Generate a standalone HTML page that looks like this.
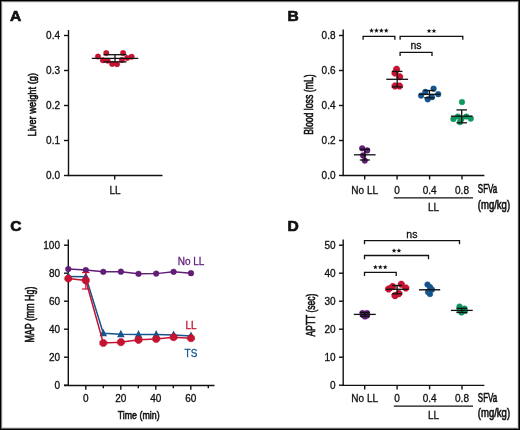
<!DOCTYPE html><html><head><meta charset="utf-8"><style>html,body{margin:0;padding:0;background:#fff;}svg{display:block;will-change:transform}text{font-family:"Liberation Sans",sans-serif}</style></head><body>
<svg width="520" height="430" viewBox="0 0 520 430" font-family="Liberation Sans, sans-serif">
<rect x="0" y="0" width="520" height="430" fill="#fff"/>
<g shape-rendering="crispEdges">
<rect x="2" y="2" width="515" height="1" fill="#ebebeb"/>
<rect x="2" y="2" width="1" height="425" fill="#ebebeb"/>
<rect x="517" y="2" width="1" height="426" fill="#e6e6e6"/>
<rect x="2" y="427" width="516" height="1" fill="#dcdcdc"/>
<rect x="1" y="1" width="517" height="1" fill="#787878"/>
<rect x="1" y="1" width="1" height="427" fill="#787878"/>
<rect x="518" y="1" width="1" height="428" fill="#505050"/>
<rect x="1" y="428" width="518" height="1" fill="#646464"/>
<rect x="0" y="0" width="520" height="1" fill="#000"/>
<rect x="0" y="0" width="1" height="430" fill="#000"/>
<rect x="519" y="0" width="1" height="430" fill="#000"/>
<rect x="0" y="429" width="520" height="1" fill="#000"/>
</g>
<text x="0" y="0" font-size="15.6" text-anchor="start" fill="#111" stroke="#111" stroke-width="0.7" font-weight="bold" transform="translate(10.1,21.3) scale(1,0.96)">A</text>
<text x="0" y="0" font-size="15.6" text-anchor="start" fill="#111" stroke="#111" stroke-width="0.7" font-weight="bold" transform="translate(287.5,21.3) scale(1,0.96)">B</text>
<text x="0" y="0" font-size="15.6" text-anchor="start" fill="#111" stroke="#111" stroke-width="0.7" font-weight="bold" transform="translate(10.2,230.9) scale(1,0.96)">C</text>
<text x="0" y="0" font-size="15.6" text-anchor="start" fill="#111" stroke="#111" stroke-width="0.7" font-weight="bold" transform="translate(287.5,230.9) scale(1,0.96)">D</text>
<line x1="68.5" y1="30" x2="68.5" y2="176.1" stroke="#111" stroke-width="1.4"/>
<line x1="67.85" y1="175.5" x2="162.5" y2="175.5" stroke="#111" stroke-width="1.4"/>
<line x1="64" y1="175.5" x2="68.5" y2="175.5" stroke="#111" stroke-width="1.4"/>
<text x="60" y="179.0" font-size="10" text-anchor="end" fill="#111" stroke="#111" stroke-width="0.3" >0.0</text>
<line x1="64" y1="140.5" x2="68.5" y2="140.5" stroke="#111" stroke-width="1.4"/>
<text x="60" y="144.0" font-size="10" text-anchor="end" fill="#111" stroke="#111" stroke-width="0.3" >0.1</text>
<line x1="64" y1="105.5" x2="68.5" y2="105.5" stroke="#111" stroke-width="1.4"/>
<text x="60" y="109.0" font-size="10" text-anchor="end" fill="#111" stroke="#111" stroke-width="0.3" >0.2</text>
<line x1="64" y1="70.5" x2="68.5" y2="70.5" stroke="#111" stroke-width="1.4"/>
<text x="60" y="74.0" font-size="10" text-anchor="end" fill="#111" stroke="#111" stroke-width="0.3" >0.3</text>
<line x1="64" y1="35.5" x2="68.5" y2="35.5" stroke="#111" stroke-width="1.4"/>
<text x="60" y="39.0" font-size="10" text-anchor="end" fill="#111" stroke="#111" stroke-width="0.3" >0.4</text>
<line x1="114.7" y1="175.5" x2="114.7" y2="179.6" stroke="#111" stroke-width="1.4"/>
<text x="115" y="194" font-size="10" text-anchor="middle" fill="#111" stroke="#111" stroke-width="0.3" >LL</text>
<text transform="translate(36.1,104.7) rotate(-90)" x="0" y="0" font-size="11.7" text-anchor="middle" fill="#111" stroke="#111" stroke-width="0.6" font-weight="normal" textLength="63.5" lengthAdjust="spacingAndGlyphs">Liver weight (g)</text>
<circle cx="106.3" cy="53.1" r="2.75" fill="#C41432" stroke="#BD0A2A" stroke-width="0.4"/>
<circle cx="123.1" cy="53.1" r="2.75" fill="#C41432" stroke="#BD0A2A" stroke-width="0.4"/>
<circle cx="98" cy="56.6" r="2.75" fill="#C41432" stroke="#BD0A2A" stroke-width="0.4"/>
<circle cx="131.6" cy="56.8" r="2.75" fill="#C41432" stroke="#BD0A2A" stroke-width="0.4"/>
<circle cx="102.9" cy="60.3" r="2.75" fill="#C41432" stroke="#BD0A2A" stroke-width="0.4"/>
<circle cx="107.7" cy="60.7" r="2.75" fill="#C41432" stroke="#BD0A2A" stroke-width="0.4"/>
<circle cx="112.2" cy="63.9" r="2.75" fill="#C41432" stroke="#BD0A2A" stroke-width="0.4"/>
<circle cx="117" cy="64.2" r="2.75" fill="#C41432" stroke="#BD0A2A" stroke-width="0.4"/>
<circle cx="121.9" cy="60" r="2.75" fill="#C41432" stroke="#BD0A2A" stroke-width="0.4"/>
<circle cx="127.2" cy="58" r="2.75" fill="#C41432" stroke="#BD0A2A" stroke-width="0.4"/>
<line x1="91.75" y1="58.3" x2="138.25" y2="58.3" stroke="#111" stroke-width="1.3"/>
<line x1="103.5" y1="54.7" x2="126.5" y2="54.7" stroke="#111" stroke-width="1.3"/>
<line x1="103.5" y1="61.9" x2="126.5" y2="61.9" stroke="#111" stroke-width="1.3"/>
<line x1="115" y1="54.7" x2="115" y2="61.9" stroke="#111" stroke-width="1.3"/>
<line x1="343.2" y1="29.5" x2="343.2" y2="176.1" stroke="#111" stroke-width="1.4"/>
<line x1="342.55" y1="175.5" x2="484.4" y2="175.5" stroke="#111" stroke-width="1.4"/>
<line x1="339" y1="175.5" x2="343.2" y2="175.5" stroke="#111" stroke-width="1.4"/>
<text x="335.5" y="179.0" font-size="10" text-anchor="end" fill="#111" stroke="#111" stroke-width="0.3" >0.0</text>
<line x1="339" y1="140.5" x2="343.2" y2="140.5" stroke="#111" stroke-width="1.4"/>
<text x="335.5" y="144.0" font-size="10" text-anchor="end" fill="#111" stroke="#111" stroke-width="0.3" >0.2</text>
<line x1="339" y1="105.5" x2="343.2" y2="105.5" stroke="#111" stroke-width="1.4"/>
<text x="335.5" y="109.0" font-size="10" text-anchor="end" fill="#111" stroke="#111" stroke-width="0.3" >0.4</text>
<line x1="339" y1="70.5" x2="343.2" y2="70.5" stroke="#111" stroke-width="1.4"/>
<text x="335.5" y="74.0" font-size="10" text-anchor="end" fill="#111" stroke="#111" stroke-width="0.3" >0.6</text>
<line x1="339" y1="35.5" x2="343.2" y2="35.5" stroke="#111" stroke-width="1.4"/>
<text x="335.5" y="39.0" font-size="10" text-anchor="end" fill="#111" stroke="#111" stroke-width="0.3" >0.8</text>
<line x1="364.7" y1="175.5" x2="364.7" y2="179.5" stroke="#111" stroke-width="1.4"/>
<text x="364.7" y="193.5" font-size="10" text-anchor="middle" fill="#111" stroke="#111" stroke-width="0.3" >No LL</text>
<line x1="397.1" y1="175.5" x2="397.1" y2="179.5" stroke="#111" stroke-width="1.4"/>
<text x="397.1" y="193.5" font-size="10" text-anchor="middle" fill="#111" stroke="#111" stroke-width="0.3" >0</text>
<line x1="429.6" y1="175.5" x2="429.6" y2="179.5" stroke="#111" stroke-width="1.4"/>
<text x="429.6" y="193.5" font-size="10" text-anchor="middle" fill="#111" stroke="#111" stroke-width="0.3" >0.4</text>
<line x1="462" y1="175.5" x2="462" y2="179.5" stroke="#111" stroke-width="1.4"/>
<text x="462" y="193.5" font-size="10" text-anchor="middle" fill="#111" stroke="#111" stroke-width="0.3" >0.8</text>
<text x="477.8" y="193.3" font-size="12.2" text-anchor="start" fill="#111" stroke="#111" stroke-width="0.6" font-weight="normal" textLength="19.4" lengthAdjust="spacingAndGlyphs">SFVa</text>
<line x1="393.8" y1="197.9" x2="473" y2="197.9" stroke="#111" stroke-width="1.4"/>
<text x="433.6" y="210.8" font-size="10" text-anchor="middle" fill="#111" stroke="#111" stroke-width="0.3" >LL</text>
<text x="477.8" y="208.5" font-size="12.2" text-anchor="start" fill="#111" stroke="#111" stroke-width="0.6" font-weight="normal" textLength="32.3" lengthAdjust="spacingAndGlyphs">(mg/kg)</text>
<text transform="translate(313.1,104.6) rotate(-90)" x="0" y="0" font-size="12.3" text-anchor="middle" fill="#111" stroke="#111" stroke-width="0.6" font-weight="normal" textLength="60.5" lengthAdjust="spacingAndGlyphs">Blood loss (mL)</text>
<path d="M363.1,39.8 V36.3 H394.9 V39.8" fill="none" stroke="#111" stroke-width="1.3"/>
<path d="M400.1,39.699999999999996 V36.3 H462.8 V39.699999999999996" fill="none" stroke="#111" stroke-width="1.3"/>
<path d="M400.1,55.9 V52.4 H432 V55.9" fill="none" stroke="#111" stroke-width="1.3"/>
<polygon points="371.55,28.05 372.18,29.73 373.98,29.81 372.57,30.93 373.05,32.66 371.55,31.67 370.05,32.66 370.53,30.93 369.12,29.81 370.92,29.73" fill="#111"/>
<polygon points="376.45,28.05 377.08,29.73 378.88,29.81 377.47,30.93 377.95,32.66 376.45,31.67 374.95,32.66 375.43,30.93 374.02,29.81 375.82,29.73" fill="#111"/>
<polygon points="381.35,28.05 381.98,29.73 383.78,29.81 382.37,30.93 382.85,32.66 381.35,31.67 379.85,32.66 380.33,30.93 378.92,29.81 380.72,29.73" fill="#111"/>
<polygon points="386.25,28.05 386.88,29.73 388.68,29.81 387.27,30.93 387.75,32.66 386.25,31.67 384.75,32.66 385.23,30.93 383.82,29.81 385.62,29.73" fill="#111"/>
<polygon points="429.05,28.45 429.68,30.13 431.48,30.21 430.07,31.33 430.55,33.06 429.05,32.07 427.55,33.06 428.03,31.33 426.62,30.21 428.42,30.13" fill="#111"/>
<polygon points="433.95,28.45 434.58,30.13 436.38,30.21 434.97,31.33 435.45,33.06 433.95,32.07 432.45,33.06 432.93,31.33 431.52,30.21 433.32,30.13" fill="#111"/>
<text x="416" y="49.3" font-size="10.5" text-anchor="middle" fill="#111" stroke="#111" stroke-width="0.3" >ns</text>
<circle cx="362.2" cy="148.3" r="2.85" fill="#621E78" stroke="#581070" stroke-width="0.4"/>
<circle cx="367.2" cy="150.4" r="2.85" fill="#621E78" stroke="#581070" stroke-width="0.4"/>
<circle cx="363.1" cy="155.4" r="2.85" fill="#621E78" stroke="#581070" stroke-width="0.4"/>
<circle cx="364.8" cy="160.6" r="2.85" fill="#621E78" stroke="#581070" stroke-width="0.4"/>
<line x1="354.0" y1="154.8" x2="375.6" y2="154.8" stroke="#111" stroke-width="1.3"/>
<line x1="359.8" y1="149.3" x2="369.8" y2="149.3" stroke="#111" stroke-width="1.3"/>
<line x1="359.8" y1="160" x2="369.8" y2="160" stroke="#111" stroke-width="1.3"/>
<line x1="364.8" y1="149.3" x2="364.8" y2="160" stroke="#111" stroke-width="1.3"/>
<polygon points="399.79,70.52 397.92,72.39 395.28,72.39 393.41,70.52 393.41,67.88 395.28,66.01 397.92,66.01 399.79,67.88" fill="#C41432" stroke="#BD0A2A" stroke-width="0.4"/>
<polygon points="398.19,74.32 396.32,76.19 393.68,76.19 391.81,74.32 391.81,71.68 393.68,69.81 396.32,69.81 398.19,71.68" fill="#C41432" stroke="#BD0A2A" stroke-width="0.4"/>
<polygon points="402.89,78.12 401.02,79.99 398.38,79.99 396.51,78.12 396.51,75.48 398.38,73.61 401.02,73.61 402.89,75.48" fill="#C41432" stroke="#BD0A2A" stroke-width="0.4"/>
<polygon points="398.19,87.32 396.32,89.19 393.68,89.19 391.81,87.32 391.81,84.68 393.68,82.81 396.32,82.81 398.19,84.68" fill="#C41432" stroke="#BD0A2A" stroke-width="0.4"/>
<polygon points="402.69,87.32 400.82,89.19 398.18,89.19 396.31,87.32 396.31,84.68 398.18,82.81 400.82,82.81 402.69,84.68" fill="#C41432" stroke="#BD0A2A" stroke-width="0.4"/>
<line x1="386.3" y1="79.3" x2="408.09999999999997" y2="79.3" stroke="#111" stroke-width="1.3"/>
<line x1="391.95" y1="71.4" x2="402.45" y2="71.4" stroke="#111" stroke-width="1.3"/>
<line x1="391.95" y1="86.9" x2="402.45" y2="86.9" stroke="#111" stroke-width="1.3"/>
<line x1="397.2" y1="71.4" x2="397.2" y2="86.9" stroke="#111" stroke-width="1.3"/>
<circle cx="433.6" cy="88.7" r="2.85" fill="#17568D" stroke="#0B4A85" stroke-width="0.4"/>
<circle cx="425.3" cy="91.9" r="2.85" fill="#17568D" stroke="#0B4A85" stroke-width="0.4"/>
<circle cx="438.2" cy="94.2" r="2.85" fill="#17568D" stroke="#0B4A85" stroke-width="0.4"/>
<circle cx="421.1" cy="95.6" r="2.85" fill="#17568D" stroke="#0B4A85" stroke-width="0.4"/>
<circle cx="427.7" cy="99.3" r="2.85" fill="#17568D" stroke="#0B4A85" stroke-width="0.4"/>
<circle cx="431.9" cy="97.2" r="2.85" fill="#17568D" stroke="#0B4A85" stroke-width="0.4"/>
<line x1="418.9" y1="94.3" x2="439.9" y2="94.3" stroke="#111" stroke-width="1.3"/>
<line x1="424.2" y1="90.5" x2="434.59999999999997" y2="90.5" stroke="#111" stroke-width="1.3"/>
<line x1="424.2" y1="97.8" x2="434.59999999999997" y2="97.8" stroke="#111" stroke-width="1.3"/>
<line x1="429.4" y1="90.5" x2="429.4" y2="97.8" stroke="#111" stroke-width="1.3"/>
<circle cx="462" cy="102" r="2.85" fill="#10975F" stroke="#079158" stroke-width="0.4"/>
<circle cx="453.4" cy="119" r="2.85" fill="#10975F" stroke="#079158" stroke-width="0.4"/>
<circle cx="457.9" cy="116.5" r="2.85" fill="#10975F" stroke="#079158" stroke-width="0.4"/>
<circle cx="460" cy="122.1" r="2.85" fill="#10975F" stroke="#079158" stroke-width="0.4"/>
<circle cx="466.3" cy="116.5" r="2.85" fill="#10975F" stroke="#079158" stroke-width="0.4"/>
<circle cx="470.8" cy="118.6" r="2.85" fill="#10975F" stroke="#079158" stroke-width="0.4"/>
<circle cx="461.4" cy="119" r="2.85" fill="#10975F" stroke="#079158" stroke-width="0.4"/>
<line x1="450.9" y1="116.2" x2="472.5" y2="116.2" stroke="#111" stroke-width="1.3"/>
<line x1="456.5" y1="109.9" x2="466.9" y2="109.9" stroke="#111" stroke-width="1.3"/>
<line x1="456.5" y1="122.8" x2="466.9" y2="122.8" stroke="#111" stroke-width="1.3"/>
<line x1="461.7" y1="109.9" x2="461.7" y2="122.8" stroke="#111" stroke-width="1.3"/>
<line x1="68.3" y1="239.5" x2="68.3" y2="386.1" stroke="#111" stroke-width="1.4"/>
<line x1="64" y1="385.5" x2="214.5" y2="385.5" stroke="#111" stroke-width="1.4"/>
<line x1="64" y1="385.2" x2="68.3" y2="385.2" stroke="#111" stroke-width="1.4"/>
<text x="60" y="388.8" font-size="10" text-anchor="end" fill="#111" stroke="#111" stroke-width="0.3" >0</text>
<line x1="64" y1="357.2" x2="68.3" y2="357.2" stroke="#111" stroke-width="1.4"/>
<text x="60" y="360.8" font-size="10" text-anchor="end" fill="#111" stroke="#111" stroke-width="0.3" >20</text>
<line x1="64" y1="329.2" x2="68.3" y2="329.2" stroke="#111" stroke-width="1.4"/>
<text x="60" y="332.8" font-size="10" text-anchor="end" fill="#111" stroke="#111" stroke-width="0.3" >40</text>
<line x1="64" y1="301.2" x2="68.3" y2="301.2" stroke="#111" stroke-width="1.4"/>
<text x="60" y="304.8" font-size="10" text-anchor="end" fill="#111" stroke="#111" stroke-width="0.3" >60</text>
<line x1="64" y1="273.2" x2="68.3" y2="273.2" stroke="#111" stroke-width="1.4"/>
<text x="60" y="276.8" font-size="10" text-anchor="end" fill="#111" stroke="#111" stroke-width="0.3" >80</text>
<line x1="64" y1="245.2" x2="68.3" y2="245.2" stroke="#111" stroke-width="1.4"/>
<text x="60" y="248.79999999999998" font-size="10" text-anchor="end" fill="#111" stroke="#111" stroke-width="0.3" >100</text>
<line x1="85.8" y1="385.5" x2="85.8" y2="389.7" stroke="#111" stroke-width="1.4"/>
<text x="85.8" y="402" font-size="10" text-anchor="middle" fill="#111" stroke="#111" stroke-width="0.3" >0</text>
<line x1="103.3" y1="385.5" x2="103.3" y2="388.2" stroke="#111" stroke-width="1.4"/>
<line x1="120.8" y1="385.5" x2="120.8" y2="389.7" stroke="#111" stroke-width="1.4"/>
<text x="120.8" y="402" font-size="10" text-anchor="middle" fill="#111" stroke="#111" stroke-width="0.3" >20</text>
<line x1="138.3" y1="385.5" x2="138.3" y2="388.2" stroke="#111" stroke-width="1.4"/>
<line x1="155.8" y1="385.5" x2="155.8" y2="389.7" stroke="#111" stroke-width="1.4"/>
<text x="155.8" y="402" font-size="10" text-anchor="middle" fill="#111" stroke="#111" stroke-width="0.3" >40</text>
<line x1="173.3" y1="385.5" x2="173.3" y2="388.2" stroke="#111" stroke-width="1.4"/>
<line x1="190.8" y1="385.5" x2="190.8" y2="389.7" stroke="#111" stroke-width="1.4"/>
<text x="190.8" y="402" font-size="10" text-anchor="middle" fill="#111" stroke="#111" stroke-width="0.3" >60</text>
<line x1="208.3" y1="385.5" x2="208.3" y2="388.2" stroke="#111" stroke-width="1.4"/>
<text x="117.7" y="419.3" font-size="11.8" text-anchor="start" fill="#111" stroke="#111" stroke-width="0.6" font-weight="normal" textLength="42" lengthAdjust="spacingAndGlyphs">Time (min)</text>
<text transform="translate(34.3,314.6) rotate(-90)" x="0" y="0" font-size="12.5" text-anchor="middle" fill="#111" stroke="#111" stroke-width="0.6" font-weight="normal" textLength="56" lengthAdjust="spacingAndGlyphs">MAP (mm Hg)</text>
<polyline points="68.3,269 85.8,270 103.3,271.8 120.9,271.7 138.5,273.8 156.2,273.6 173.6,271.8 191,273.2" fill="none" stroke="#621E78" stroke-width="1.4"/>
<circle cx="68.3" cy="269" r="2.85" fill="#621E78" stroke="#581070" stroke-width="0.4"/>
<circle cx="85.8" cy="270" r="2.85" fill="#621E78" stroke="#581070" stroke-width="0.4"/>
<circle cx="103.3" cy="271.8" r="2.85" fill="#621E78" stroke="#581070" stroke-width="0.4"/>
<circle cx="120.9" cy="271.7" r="2.85" fill="#621E78" stroke="#581070" stroke-width="0.4"/>
<circle cx="138.5" cy="273.8" r="2.85" fill="#621E78" stroke="#581070" stroke-width="0.4"/>
<circle cx="156.2" cy="273.6" r="2.85" fill="#621E78" stroke="#581070" stroke-width="0.4"/>
<circle cx="173.6" cy="271.8" r="2.85" fill="#621E78" stroke="#581070" stroke-width="0.4"/>
<circle cx="191" cy="273.2" r="2.85" fill="#621E78" stroke="#581070" stroke-width="0.4"/>
<polyline points="68.3,276.5 85.8,276.8 103.3,333.3 120.9,334.3 138.5,334.6 156.2,334.6 173.6,335 191,336" fill="none" stroke="#17568D" stroke-width="1.5"/>
<polygon points="68.3,271.94 64.50,279.54 72.10,279.54" fill="#17568D"/>
<polygon points="85.8,272.24 82.00,279.84 89.60,279.84" fill="#17568D"/>
<polygon points="103.3,328.74 99.50,336.34 107.10,336.34" fill="#17568D"/>
<polygon points="120.9,329.74 117.10,337.34 124.70,337.34" fill="#17568D"/>
<polygon points="138.5,330.04 134.70,337.64 142.30,337.64" fill="#17568D"/>
<polygon points="156.2,330.04 152.40,337.64 160.00,337.64" fill="#17568D"/>
<polygon points="173.6,330.44 169.80,338.04 177.40,338.04" fill="#17568D"/>
<polygon points="191,331.44 187.20,339.04 194.80,339.04" fill="#17568D"/>
<polyline points="68.3,278.5 85.8,280.5 103.3,343 120.9,342.2 138.5,339.8 156.2,339 173.6,337.2 191,338.2" fill="none" stroke="#C41432" stroke-width="1.5"/>
<line x1="85.8" y1="272.5" x2="85.8" y2="289" stroke="#C41432" stroke-width="1.2"/>
<line x1="82" y1="272.5" x2="89.6" y2="272.5" stroke="#C41432" stroke-width="1.2"/>
<line x1="82" y1="289" x2="89.6" y2="289" stroke="#C41432" stroke-width="1.2"/>
<polygon points="71.90,279.99 69.79,282.10 66.81,282.10 64.70,279.99 64.70,277.01 66.81,274.90 69.79,274.90 71.90,277.01" fill="#C41432" stroke="#BD0A2A" stroke-width="0.4"/>
<polygon points="89.40,281.99 87.29,284.10 84.31,284.10 82.20,281.99 82.20,279.01 84.31,276.90 87.29,276.90 89.40,279.01" fill="#C41432" stroke="#BD0A2A" stroke-width="0.4"/>
<polygon points="106.90,344.49 104.79,346.60 101.81,346.60 99.70,344.49 99.70,341.51 101.81,339.40 104.79,339.40 106.90,341.51" fill="#C41432" stroke="#BD0A2A" stroke-width="0.4"/>
<polygon points="124.50,343.69 122.39,345.80 119.41,345.80 117.30,343.69 117.30,340.71 119.41,338.60 122.39,338.60 124.50,340.71" fill="#C41432" stroke="#BD0A2A" stroke-width="0.4"/>
<polygon points="142.10,341.29 139.99,343.40 137.01,343.40 134.90,341.29 134.90,338.31 137.01,336.20 139.99,336.20 142.10,338.31" fill="#C41432" stroke="#BD0A2A" stroke-width="0.4"/>
<polygon points="159.80,340.49 157.69,342.60 154.71,342.60 152.60,340.49 152.60,337.51 154.71,335.40 157.69,335.40 159.80,337.51" fill="#C41432" stroke="#BD0A2A" stroke-width="0.4"/>
<polygon points="177.20,338.69 175.09,340.80 172.11,340.80 170.00,338.69 170.00,335.71 172.11,333.60 175.09,333.60 177.20,335.71" fill="#C41432" stroke="#BD0A2A" stroke-width="0.4"/>
<polygon points="194.60,339.69 192.49,341.80 189.51,341.80 187.40,339.69 187.40,336.71 189.51,334.60 192.49,334.60 194.60,336.71" fill="#C41432" stroke="#BD0A2A" stroke-width="0.4"/>
<text x="191" y="264.8" font-size="10" text-anchor="middle" fill="#621E78" stroke="#621E78" stroke-width="0.3" >No LL</text>
<text x="191" y="329" font-size="10" text-anchor="middle" fill="#C41432" stroke="#C41432" stroke-width="0.3" >LL</text>
<text x="191" y="357" font-size="10" text-anchor="middle" fill="#17568D" stroke="#17568D" stroke-width="0.3" >TS</text>
<line x1="343.2" y1="239.5" x2="343.2" y2="386" stroke="#111" stroke-width="1.4"/>
<line x1="342.55" y1="385.4" x2="484.4" y2="385.4" stroke="#111" stroke-width="1.4"/>
<line x1="339" y1="385.2" x2="343.2" y2="385.2" stroke="#111" stroke-width="1.4"/>
<text x="335.5" y="388.8" font-size="10" text-anchor="end" fill="#111" stroke="#111" stroke-width="0.3" >0</text>
<line x1="339" y1="357.2" x2="343.2" y2="357.2" stroke="#111" stroke-width="1.4"/>
<text x="335.5" y="360.8" font-size="10" text-anchor="end" fill="#111" stroke="#111" stroke-width="0.3" >10</text>
<line x1="339" y1="329.2" x2="343.2" y2="329.2" stroke="#111" stroke-width="1.4"/>
<text x="335.5" y="332.8" font-size="10" text-anchor="end" fill="#111" stroke="#111" stroke-width="0.3" >20</text>
<line x1="339" y1="301.2" x2="343.2" y2="301.2" stroke="#111" stroke-width="1.4"/>
<text x="335.5" y="304.8" font-size="10" text-anchor="end" fill="#111" stroke="#111" stroke-width="0.3" >30</text>
<line x1="339" y1="273.2" x2="343.2" y2="273.2" stroke="#111" stroke-width="1.4"/>
<text x="335.5" y="276.8" font-size="10" text-anchor="end" fill="#111" stroke="#111" stroke-width="0.3" >40</text>
<line x1="339" y1="245.2" x2="343.2" y2="245.2" stroke="#111" stroke-width="1.4"/>
<text x="335.5" y="248.79999999999998" font-size="10" text-anchor="end" fill="#111" stroke="#111" stroke-width="0.3" >50</text>
<line x1="364.7" y1="385.4" x2="364.7" y2="389.4" stroke="#111" stroke-width="1.4"/>
<text x="364.7" y="402.3" font-size="10" text-anchor="middle" fill="#111" stroke="#111" stroke-width="0.3" >No LL</text>
<line x1="397.1" y1="385.4" x2="397.1" y2="389.4" stroke="#111" stroke-width="1.4"/>
<text x="397.1" y="402.3" font-size="10" text-anchor="middle" fill="#111" stroke="#111" stroke-width="0.3" >0</text>
<line x1="429.6" y1="385.4" x2="429.6" y2="389.4" stroke="#111" stroke-width="1.4"/>
<text x="429.6" y="402.3" font-size="10" text-anchor="middle" fill="#111" stroke="#111" stroke-width="0.3" >0.4</text>
<line x1="462" y1="385.4" x2="462" y2="389.4" stroke="#111" stroke-width="1.4"/>
<text x="462" y="402.3" font-size="10" text-anchor="middle" fill="#111" stroke="#111" stroke-width="0.3" >0.8</text>
<text x="477.8" y="401.5" font-size="12.2" text-anchor="start" fill="#111" stroke="#111" stroke-width="0.6" font-weight="normal" textLength="19.4" lengthAdjust="spacingAndGlyphs">SFVa</text>
<line x1="393.8" y1="406.1" x2="473" y2="406.1" stroke="#111" stroke-width="1.4"/>
<text x="433.6" y="419.2" font-size="10" text-anchor="middle" fill="#111" stroke="#111" stroke-width="0.3" >LL</text>
<text x="477.8" y="417.4" font-size="12.2" text-anchor="start" fill="#111" stroke="#111" stroke-width="0.6" font-weight="normal" textLength="32.3" lengthAdjust="spacingAndGlyphs">(mg/kg)</text>
<text transform="translate(315,315.1) rotate(-90)" x="0" y="0" font-size="12.3" text-anchor="middle" fill="#111" stroke="#111" stroke-width="0.6" font-weight="normal" textLength="43" lengthAdjust="spacingAndGlyphs">APTT (sec)</text>
<path d="M364.5,244.29999999999998 V240.6 H459.5 V244.29999999999998" fill="none" stroke="#111" stroke-width="1.3"/>
<path d="M364.5,259.3 V255.5 H428.5 V259.3" fill="none" stroke="#111" stroke-width="1.3"/>
<path d="M364.5,276.0 V272.3 H396.2 V276.0" fill="none" stroke="#111" stroke-width="1.3"/>
<text x="411.9" y="237.5" font-size="10.5" text-anchor="middle" fill="#111" stroke="#111" stroke-width="0.3" >ns</text>
<polygon points="394.05,248.15 394.68,249.83 396.48,249.91 395.07,251.03 395.55,252.76 394.05,251.77 392.55,252.76 393.03,251.03 391.62,249.91 393.42,249.83" fill="#111"/>
<polygon points="398.95,248.15 399.58,249.83 401.38,249.91 399.97,251.03 400.45,252.76 398.95,251.77 397.45,252.76 397.93,251.03 396.52,249.91 398.32,249.83" fill="#111"/>
<polygon points="375.40,264.65 376.03,266.33 377.83,266.41 376.42,267.53 376.90,269.26 375.40,268.27 373.90,269.26 374.38,267.53 372.97,266.41 374.77,266.33" fill="#111"/>
<polygon points="380.30,264.65 380.93,266.33 382.73,266.41 381.32,267.53 381.80,269.26 380.30,268.27 378.80,269.26 379.28,267.53 377.87,266.41 379.67,266.33" fill="#111"/>
<polygon points="385.20,264.65 385.83,266.33 387.63,266.41 386.22,267.53 386.70,269.26 385.20,268.27 383.70,269.26 384.18,267.53 382.77,266.41 384.57,266.33" fill="#111"/>
<circle cx="362.5" cy="313" r="2.85" fill="#621E78" stroke="#581070" stroke-width="0.4"/>
<circle cx="367" cy="313" r="2.85" fill="#621E78" stroke="#581070" stroke-width="0.4"/>
<circle cx="365" cy="316.5" r="2.85" fill="#621E78" stroke="#581070" stroke-width="0.4"/>
<circle cx="363" cy="315" r="2.85" fill="#621E78" stroke="#581070" stroke-width="0.4"/>
<circle cx="367" cy="315.5" r="2.85" fill="#621E78" stroke="#581070" stroke-width="0.4"/>
<line x1="353.85" y1="314.4" x2="375.75" y2="314.4" stroke="#111" stroke-width="1.3"/>
<line x1="359.8" y1="312.4" x2="369.8" y2="312.4" stroke="#111" stroke-width="1.3"/>
<line x1="359.8" y1="316.3" x2="369.8" y2="316.3" stroke="#111" stroke-width="1.3"/>
<line x1="364.8" y1="312.4" x2="364.8" y2="316.3" stroke="#111" stroke-width="1.3"/>
<polygon points="404.58,285.66 402.66,287.58 399.94,287.58 398.02,285.66 398.02,282.94 399.94,281.02 402.66,281.02 404.58,282.94" fill="#C41432" stroke="#BD0A2A" stroke-width="0.4"/>
<polygon points="409.08,289.36 407.16,291.28 404.44,291.28 402.52,289.36 402.52,286.64 404.44,284.72 407.16,284.72 409.08,286.64" fill="#C41432" stroke="#BD0A2A" stroke-width="0.4"/>
<polygon points="391.88,290.36 389.96,292.28 387.24,292.28 385.32,290.36 385.32,287.64 387.24,285.72 389.96,285.72 391.88,287.64" fill="#C41432" stroke="#BD0A2A" stroke-width="0.4"/>
<polygon points="395.88,287.96 393.96,289.88 391.24,289.88 389.32,287.96 389.32,285.24 391.24,283.32 393.96,283.32 395.88,285.24" fill="#C41432" stroke="#BD0A2A" stroke-width="0.4"/>
<polygon points="398.28,296.96 396.36,298.88 393.64,298.88 391.72,296.96 391.72,294.24 393.64,292.32 396.36,292.32 398.28,294.24" fill="#C41432" stroke="#BD0A2A" stroke-width="0.4"/>
<polygon points="402.08,294.96 400.16,296.88 397.44,296.88 395.52,294.96 395.52,292.24 397.44,290.32 400.16,290.32 402.08,292.24" fill="#C41432" stroke="#BD0A2A" stroke-width="0.4"/>
<line x1="385.75" y1="289.3" x2="408.45000000000005" y2="289.3" stroke="#111" stroke-width="1.3"/>
<line x1="392.05" y1="285.5" x2="402.15000000000003" y2="285.5" stroke="#111" stroke-width="1.3"/>
<line x1="392.05" y1="293.8" x2="402.15000000000003" y2="293.8" stroke="#111" stroke-width="1.3"/>
<line x1="397.1" y1="285.5" x2="397.1" y2="293.8" stroke="#111" stroke-width="1.3"/>
<circle cx="427.5" cy="284.5" r="2.85" fill="#17568D" stroke="#0B4A85" stroke-width="0.4"/>
<circle cx="430" cy="287" r="2.85" fill="#17568D" stroke="#0B4A85" stroke-width="0.4"/>
<circle cx="432" cy="289.5" r="2.85" fill="#17568D" stroke="#0B4A85" stroke-width="0.4"/>
<circle cx="429" cy="291.5" r="2.85" fill="#17568D" stroke="#0B4A85" stroke-width="0.4"/>
<circle cx="430" cy="294" r="2.85" fill="#17568D" stroke="#0B4A85" stroke-width="0.4"/>
<circle cx="428" cy="292" r="2.85" fill="#17568D" stroke="#0B4A85" stroke-width="0.4"/>
<line x1="419" y1="289.8" x2="440.2" y2="289.8" stroke="#111" stroke-width="1.4"/>
<circle cx="459.5" cy="306.5" r="2.85" fill="#10975F" stroke="#079158" stroke-width="0.4"/>
<circle cx="464.5" cy="308.5" r="2.85" fill="#10975F" stroke="#079158" stroke-width="0.4"/>
<circle cx="461.5" cy="312.5" r="2.85" fill="#10975F" stroke="#079158" stroke-width="0.4"/>
<circle cx="459.5" cy="310" r="2.85" fill="#10975F" stroke="#079158" stroke-width="0.4"/>
<circle cx="465" cy="311" r="2.85" fill="#10975F" stroke="#079158" stroke-width="0.4"/>
<line x1="450.90000000000003" y1="310.4" x2="472.7" y2="310.4" stroke="#111" stroke-width="1.3"/>
<line x1="456.40000000000003" y1="308.3" x2="467.2" y2="308.3" stroke="#111" stroke-width="1.3"/>
<line x1="456.40000000000003" y1="312.5" x2="467.2" y2="312.5" stroke="#111" stroke-width="1.3"/>
<line x1="461.8" y1="308.3" x2="461.8" y2="312.5" stroke="#111" stroke-width="1.3"/>
</svg></body></html>
